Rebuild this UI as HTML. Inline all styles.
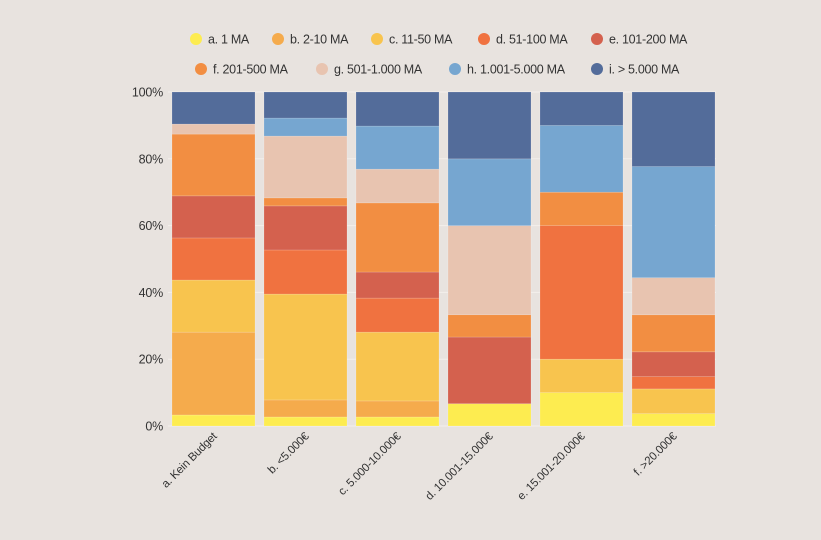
<!DOCTYPE html>
<html><head><meta charset="utf-8"><style>
body{margin:0;background:#e8e3df;}
svg{display:block;font-family:"Liberation Sans",sans-serif;}
</style></head><body>
<svg id="c" width="821" height="540"></svg>
<script>
const categories=["a. Kein Budget","b. <5.000€","c. 5.000-10.000€","d. 10.001-15.000€","e. 15.001-20.000€","f. >20.000€"];
const seriesNames=["a. 1 MA","b. 2-10 MA","c. 11-50 MA","d. 51-100 MA","e. 101-200 MA","f. 201-500 MA","g. 501-1.000 MA","h. 1.001-5.000 MA","i. > 5.000 MA"];
const colors=["#fdec50","#f5ab4c","#f8c44e","#f07240","#d4614e","#f28e42","#e8c4b0","#76a6d0","#536c9a"];
const s_a=[3.3,2.7,2.7,6.67,10,3.7];
const s_b=[24.8,5.1,4.8,0,0,0];
const s_c=[15.6,31.7,20.6,0,10,7.4];
const s_d=[12.6,13.2,10.2,0,40,3.7];
const s_e=[12.6,13.2,7.8,19.97,0,7.4];
const s_f=[18.5,2.4,20.7,6.67,10,11.1];
const s_g=[3.0,18.5,10.1,26.67,0,11.1];
const s_h=[0,5.4,12.9,20,20,33.3];
const s_i=[9.6,7.8,10.2,20.02,10,22.3];
const yTicks=[0,20,40,60,80,100];
const series=[s_a,s_b,s_c,s_d,s_e,s_f,s_g,s_h,s_i];
const NS="http://www.w3.org/2000/svg";
const svg=document.getElementById('c');
const y0=426,y1=92,x0=172,step=92,bw=83;
const yS=v=>y0-(y0-y1)*v/100;
const xS=i=>x0+i*step;
function mk(t,a,p){const e=document.createElementNS(NS,t);for(const k in a)e.setAttribute(k,a[k]);(p||svg).appendChild(e);return e;}
yTicks.forEach(t=>{
 const l=mk('line',{x1:168,x2:716,y1:yS(t),y2:yS(t),stroke:'#f3efec','stroke-width':1});
 
 
 const tx=mk('text',{x:163,y:yS(t)+4.5,'text-anchor':'end','font-size':12.5,'letter-spacing':-0.2,fill:'#333'});
 tx.textContent=t+'%';
 
 
});
categories.forEach((c,i)=>{
 let acc=0;
 series.forEach((s,k)=>{
  const v=s[i];
  if(v>0){
   const r=mk('rect',{x:xS(i),y:yS(acc+v),width:bw,height:yS(acc)-yS(acc+v),fill:colors[k],stroke:'rgba(255,255,255,0.25)','stroke-width':0.6});
   
   
  }
  acc+=v;
 });
 const cx=xS(i)+bw/2;
 const t=mk('text',{x:cx+4,y:437,'text-anchor':'end','font-size':11.5,'letter-spacing':-0.2,fill:'#333',transform:`rotate(-45 ${cx+4} 437)`});
 t.textContent=c;
 
 
});
const legPos=[[196,39],[278,39],[377,39],[484,39],[597,39],[201,69],[322,69],[455,69],[597,69]];
seriesNames.forEach((n,k)=>{
 const g=mk('g',{});
 
 
 mk('circle',{cx:legPos[k][0],cy:legPos[k][1],r:6,fill:colors[k]},g);
 const t=mk('text',{x:legPos[k][0]+12,y:legPos[k][1]+4.5,'font-size':12.5,'letter-spacing':-0.3,fill:'#333'},g);
 t.textContent=n;
});
</script>
</body></html>
